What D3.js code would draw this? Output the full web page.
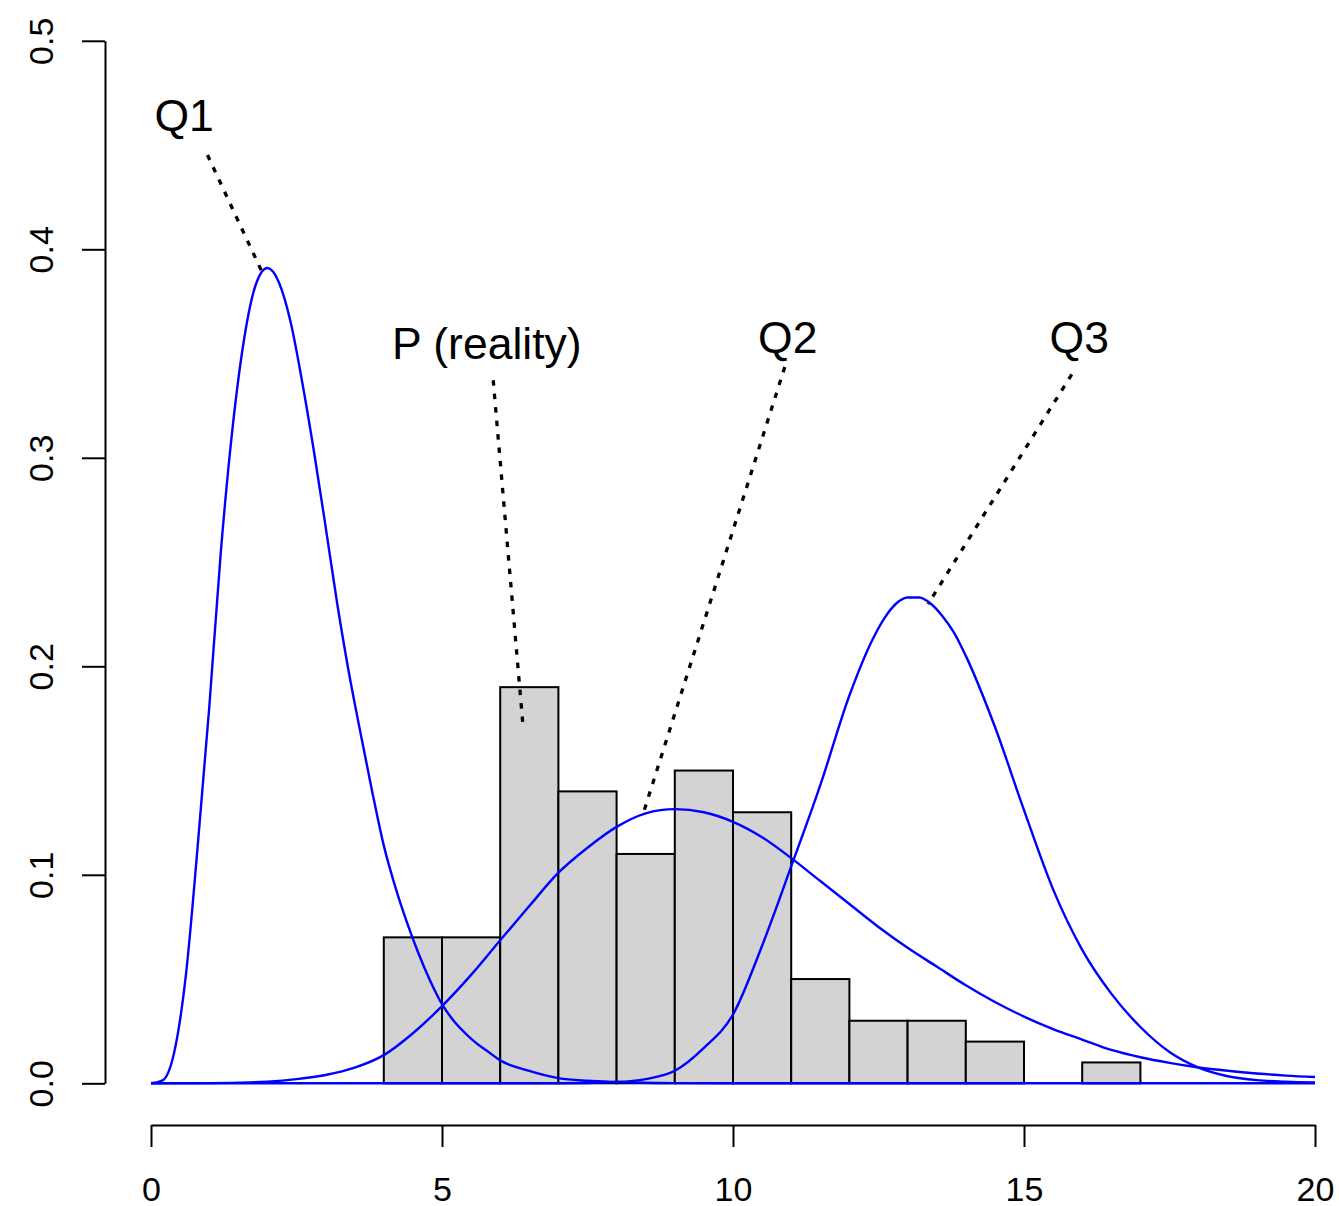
<!DOCTYPE html>
<html>
<head>
<meta charset="utf-8">
<script src="https://cdn.jsdelivr.net/npm/d3@7"></script>
<style>
  html, body { margin: 0; padding: 0; background: #fff; }
  svg { display: block; font-family: "Liberation Sans", Arial, Helvetica, sans-serif; }
</style>
</head>
<body>
<svg id="chart" width="1339" height="1206"></svg>
<script>
// histogram of observed values (density per unit bin)
const binStart = [4, 5, 6, 7, 8, 9, 10, 11, 12, 13, 14, 15, 16]
const binDensity = [0.07, 0.07, 0.19, 0.14, 0.11, 0.15, 0.13, 0.05, 0.03, 0.03, 0.02, 0, 0.01]

// model densities
const q1X = [0, 0.2, 0.4, 0.6, 0.8, 1.0, 1.2, 1.4, 1.6, 1.8, 2.0, 2.2, 2.4, 2.6, 2.8, 3.0, 3.2, 3.4, 3.6, 3.8,
  4.0, 4.2, 4.4, 4.6, 4.8, 5.0, 5.2, 5.4, 5.6, 5.8, 6.0, 6.5, 7.0, 7.5, 8.0, 9.0, 10, 20]
const q1Y = [0, 0.0014, 0.015, 0.052, 0.113, 0.180, 0.255, 0.314, 0.357, 0.383, 0.391, 0.384, 0.365, 0.336, 0.303,
  0.267, 0.230, 0.197, 0.168, 0.140, 0.114, 0.094, 0.077, 0.062, 0.049, 0.038, 0.030, 0.024, 0.019, 0.015,
  0.011, 0.006, 0.0025, 0.0012, 0.0006, 0.0001, 0, 0]

const q2X = [0, 1.0, 1.5, 2.0, 2.5, 3.0, 3.5, 4.0, 4.5, 5.0, 5.5, 6.0, 6.5, 7.0, 7.5, 8.0, 8.5, 9.0, 9.5, 10.0,
  10.5, 11.0, 11.5, 12.0, 12.5, 13.0, 13.5, 14.0, 14.5, 15.0, 15.5, 16.0, 16.5, 17.0, 17.5, 18.0, 18.5, 19.0, 19.5, 20]
const q2Y = [0, 0.0001, 0.0003, 0.0008, 0.002, 0.004, 0.0075, 0.0135, 0.024, 0.037, 0.052, 0.0686, 0.085, 0.101,
  0.113, 0.123, 0.1295, 0.1315, 0.130, 0.1254, 0.118, 0.108, 0.097, 0.086, 0.075, 0.065, 0.056, 0.047, 0.039,
  0.032, 0.026, 0.021, 0.016, 0.0125, 0.0098, 0.0076, 0.006, 0.0047, 0.0037, 0.003]

const q3X = [0, 7.0, 8.0, 8.5, 9.0, 9.5, 10.0, 10.5, 11.0, 11.5, 12.0, 12.4, 12.6, 12.8, 13.0, 13.2, 13.4, 13.6,
  13.8, 14.0, 14.5, 15.0, 15.5, 16.0, 16.5, 17.0, 17.5, 18.0, 18.5, 19.0, 19.5, 20]
const q3Y = [0, 0, 0.0006, 0.002, 0.006, 0.017, 0.033, 0.066, 0.104, 0.143, 0.186, 0.213, 0.223, 0.230, 0.233,
  0.233, 0.230, 0.224, 0.216, 0.205, 0.171, 0.131, 0.093, 0.064, 0.043, 0.027, 0.015, 0.0075, 0.0034, 0.0015,
  0.0008, 0.0004]

// annotations: label anchor (baseline) and pointer segment, in data units
const labelText = ['Q1', 'P (reality)', 'Q2', 'Q3']
const labelX = [0.57, 5.77, 10.94, 15.95]
const labelY = [0.4567, 0.3474, 0.3503, 0.3503]
const segX0 = [0.97, 5.88, 10.89, 15.82]
const segY0 = [0.4452, 0.3372, 0.3436, 0.340]
const segX1 = [1.91, 6.39, 8.45, 13.35]
const segY1 = [0.389, 0.172, 0.1288, 0.2298]

const xTicks = [0, 5, 10, 15, 20]
const yTicks = [0, 0.1, 0.2, 0.3, 0.4, 0.5]

const svg = d3.select('#chart')

const x = d3.scaleLinear().domain([0, 20]).range([151, 1315])
const y = d3.scaleLinear().domain([0, 0.5]).range([1083.3, 40.8])

// histogram
svg.append('g')
  .selectAll('rect')
  .data(binStart.map((b, i) => ({ lo: b, d: binDensity[i] })))
  .join('rect')
  .attr('x', d => x(d.lo))
  .attr('width', d => x(d.lo + 1) - x(d.lo))
  .attr('y', d => y(d.d))
  .attr('height', d => y(0) - y(d.d))
  .attr('fill', '#d3d3d3')
  .attr('stroke', '#000')
  .attr('stroke-width', 2)

// density curves
const line = d3.line()
  .x(d => x(d[0]))
  .y(d => y(d[1]))
  .curve(d3.curveMonotoneX)

const curves = [
  q1X.map((v, i) => [v, q1Y[i]]),
  q2X.map((v, i) => [v, q2Y[i]]),
  q3X.map((v, i) => [v, q3Y[i]])
]

svg.append('g')
  .selectAll('path')
  .data(curves)
  .join('path')
  .attr('d', line)
  .attr('fill', 'none')
  .attr('stroke', '#0000ff')
  .attr('stroke-width', 2.4)

// dotted pointers
svg.append('g')
  .selectAll('line')
  .data(labelText.map((t, i) => i))
  .join('line')
  .attr('x1', i => x(segX0[i]))
  .attr('y1', i => y(segY0[i]))
  .attr('x2', i => x(segX1[i]))
  .attr('y2', i => y(segY1[i]))
  .attr('stroke', '#000')
  .attr('stroke-width', 3.3)
  .attr('stroke-dasharray', '5.5,8')

svg.append('g')
  .attr('font-size', 44.5)
  .attr('text-anchor', 'middle')
  .selectAll('text')
  .data(labelText.map((t, i) => i))
  .join('text')
  .attr('x', i => x(labelX[i]))
  .attr('y', i => y(labelY[i]))
  .text(i => labelText[i])

// axes, R style (detached from the plot region)
const xAxis = svg.append('g')
  .attr('transform', 'translate(0,1125)')
  .call(d3.axisBottom(x).tickValues(xTicks).tickSize(22).tickSizeOuter(0).tickFormat(d3.format('d')))

const yAxis = svg.append('g')
  .attr('transform', 'translate(105,0)')
  .call(d3.axisLeft(y).tickValues(yTicks).tickSize(23).tickSizeOuter(0).tickFormat(d3.format('.1f')))

svg.selectAll('.domain, .tick line')
  .attr('stroke', '#000')
  .attr('stroke-width', 2)

xAxis.selectAll('text')
  .attr('font-size', 34)
  .attr('fill', '#000')
  .attr('y', 76)
  .attr('dy', 0)

yAxis.selectAll('text')
  .attr('font-size', 34)
  .attr('fill', '#000')
  .attr('x', 0)
  .attr('dy', 0)
  .attr('text-anchor', 'middle')
  .attr('transform', 'translate(-52,0) rotate(-90)')

svg.selectAll('.tick text').attr('font-family', '"Liberation Sans", Arial, Helvetica, sans-serif')
</script>
</body>
</html>
